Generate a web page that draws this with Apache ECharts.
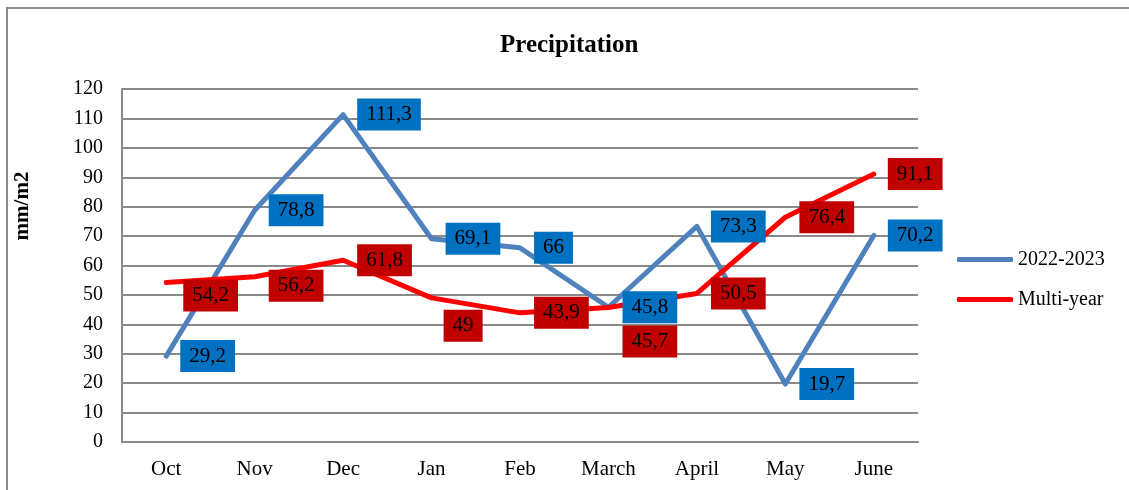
<!DOCTYPE html>
<html>
<head>
<meta charset="utf-8">
<title>Precipitation</title>
<script src="https://cdn.jsdelivr.net/npm/echarts@6/dist/echarts.min.js"></script>
<style>
  html, body { margin: 0; padding: 0; background: #ffffff; }
  #chart { width: 1129px; height: 490px; }
</style>
</head>
<body>
<div id="chart"></div>
<script>
// Monthly precipitation, mm/m2
const months = ['Oct', 'Nov', 'Dec', 'Jan', 'Feb', 'March', 'April', 'May', 'June'];
const season2022 = [29.2, 78.8, 111.3, 69.1, 66, 45.8, 73.3, 19.7, 70.2];
const multiYear = [54.2, 56.2, 61.8, 49, 43.9, 45.7, 50.5, 76.4, 91.1];
const yTicks = { min: 0, max: 120, step: 10 };

// Small per-point label nudges so the boxes do not collide
const multiYearLabelShift = [[3, 13], [0, 9], [0, 0], [-2, 28], [0, 0], [0, 34], [0, 0], [0, 0], [0, 0]];

const FONT = "'Times New Roman', 'Liberation Serif', serif";
const fmt = v => String(v).replace('.', ',');

function seriesData(values, shifts) {
  return values.map((v, i) => ({
    value: v,
    label: { offset: shifts ? shifts[i] : [0, 0] }
  }));
}

function labelStyle(bg) {
  return {
    show: true,
    position: 'right',
    distance: 14,
    formatter: p => fmt(p.value),
    backgroundColor: bg,
    color: '#000000',
    fontFamily: FONT,
    fontSize: 21,
    lineHeight: 21,
    padding: [6, 9, 5, 9]
  };
}

const chart = echarts.init(document.getElementById('chart'), null, { renderer: 'canvas' });

chart.setOption({
  animation: false,
  backgroundColor: '#ffffff',
  title: {
    text: 'Precipitation',
    left: 500,
    top: 33,
    padding: 0,
    textStyle: { fontFamily: FONT, fontSize: 25, fontWeight: 'bold', color: '#000000' }
  },
  legend: {
    orient: 'vertical',
    left: 957,
    top: 249,
    padding: 0,
    icon: 'roundRect',
    itemWidth: 56,
    itemHeight: 5,
    itemGap: 19,
    textStyle: { fontFamily: FONT, fontSize: 20, color: '#000000', lineHeight: 21 },
    data: ['2022-2023', 'Multi-year']
  },
  grid: { left: 122, right: 211, top: 89, bottom: 48, containLabel: false },
  xAxis: {
    type: 'category',
    data: months,
    boundaryGap: true,
    axisLine: { lineStyle: { color: '#8a8a8a', width: 2 } },
    axisTick: { show: false },
    axisLabel: { fontFamily: FONT, fontSize: 21, color: '#000000', margin: 17 }
  },
  yAxis: {
    type: 'value',
    min: yTicks.min,
    max: yTicks.max,
    interval: yTicks.step,
    axisLine: { show: true, lineStyle: { color: '#8a8a8a', width: 2 } },
    axisTick: { show: false },
    axisLabel: { fontFamily: FONT, fontSize: 20, color: '#000000', margin: 19 },
    splitLine: { lineStyle: { color: '#8a8a8a', width: 2 } }
  },
  graphic: [
    {
      type: 'rect',
      shape: { x: 7, y: 8, width: 1300, height: 700 },
      style: { fill: 'none', stroke: '#8c8c8c', lineWidth: 2 },
      silent: true
    },
    {
      type: 'text',
      x: 23,
      y: 206,
      rotation: Math.PI / 2,
      style: {
        text: 'mm/m2',
        font: 'bold 21px ' + FONT,
        fill: '#000000',
        textAlign: 'center',
        textVerticalAlign: 'middle'
      }
    }
  ],
  series: [
    {
      name: '2022-2023',
      type: 'line',
      data: seriesData(season2022, null),
      symbol: 'circle',
      symbolSize: 0.1,
      showSymbol: true,
      color: '#4F81BD',
      itemStyle: { color: '#4F81BD' },
      lineStyle: { color: '#4F81BD', width: 5, cap: 'round', join: 'round' },
      label: labelStyle('#0070C0'),
      z: 2
    },
    {
      name: 'Multi-year',
      type: 'line',
      data: seriesData(multiYear, multiYearLabelShift),
      symbol: 'circle',
      symbolSize: 0.1,
      showSymbol: true,
      color: '#FF0000',
      itemStyle: { color: '#FF0000' },
      lineStyle: { color: '#FF0000', width: 5, cap: 'round', join: 'round' },
      label: labelStyle('#C00000'),
      z: 2
    }
  ]
});
</script>
</body>
</html>
